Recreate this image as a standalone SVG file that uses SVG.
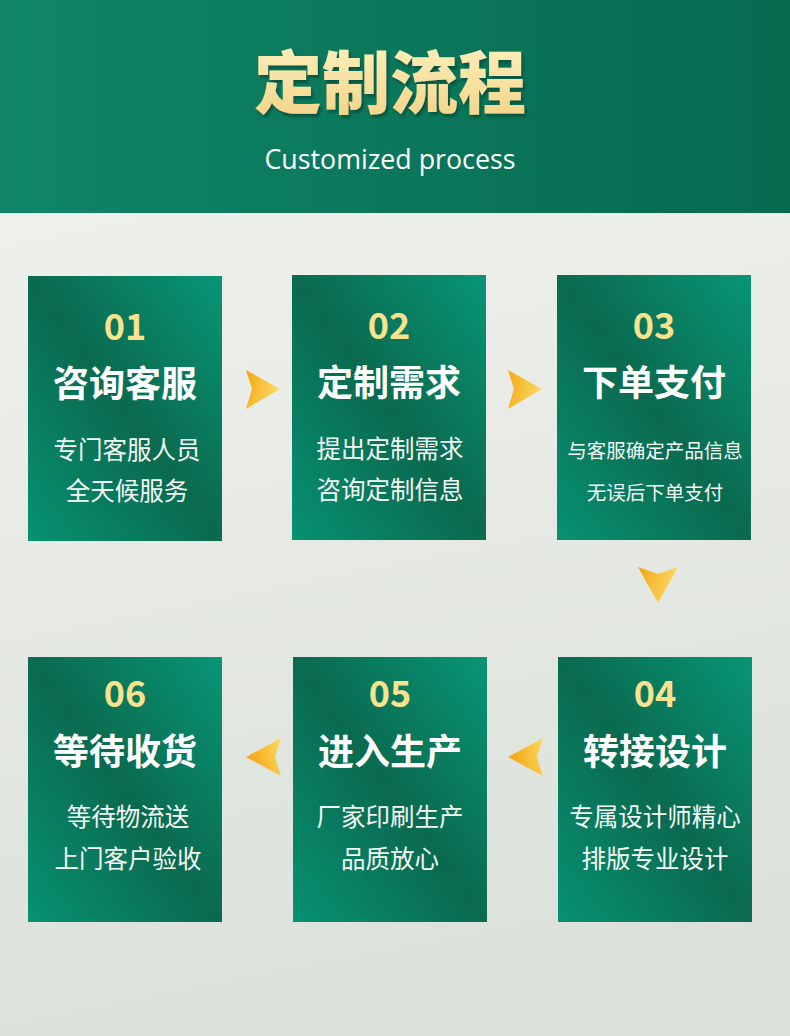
<svg xmlns="http://www.w3.org/2000/svg" width="790" height="1036" viewBox="0 0 790 1036">
  <defs>
    <linearGradient id="bg" x1="0" y1="0" x2="0.15" y2="1">
      <stop offset="0" stop-color="#f3f4f0"/>
      <stop offset="1" stop-color="#dce1db"/>
    </linearGradient>
    <linearGradient id="hdr" x1="0" y1="0" x2="1" y2="0">
      <stop offset="0" stop-color="#0f8567"/>
      <stop offset="1" stop-color="#066a4f"/>
    </linearGradient>
    <linearGradient id="box" x1="1" y1="0" x2="0" y2="1">
      <stop offset="0" stop-color="#089576"/>
      <stop offset="0.5" stop-color="#0a6a4f"/>
      <stop offset="1" stop-color="#079172"/>
    </linearGradient>
    <linearGradient id="gold" x1="0" y1="0" x2="0" y2="1">
      <stop offset="0" stop-color="#fff4c4"/>
      <stop offset="1" stop-color="#f2d183"/>
    </linearGradient>
    <linearGradient id="arr" x1="0" y1="0" x2="1" y2="0.3">
      <stop offset="0" stop-color="#f4a515"/>
      <stop offset="1" stop-color="#fcd960"/>
    </linearGradient>
    <linearGradient id="arrL" x1="1" y1="0" x2="0" y2="0.3">
      <stop offset="0" stop-color="#fcd960"/>
      <stop offset="1" stop-color="#f4a515"/>
    </linearGradient>
    <filter id="sh" x="-10%" y="-20%" width="120%" height="140%">
      <feDropShadow dx="2" dy="3" stdDeviation="1.5" flood-color="#033a2b" flood-opacity="0.6"/>
    </filter>
    <style>
      .box { fill: url(#box); }
      .num { font-family: "Noto Sans CJK SC", "Noto Sans", sans-serif; font-weight: 700; font-size: 36px; fill: #f9e28d; text-anchor: middle; }
      .ttl { font-family: "Noto Sans CJK SC", sans-serif; font-weight: 700; font-size: 36px; fill: #ffffff; text-anchor: middle; }
      .sub { font-family: "Noto Sans CJK SC", sans-serif; font-weight: 400; font-size: 24.5px; fill: #f4f8f5; text-anchor: middle; }
      .sub2 { font-family: "Noto Sans CJK SC", sans-serif; font-weight: 400; font-size: 19.5px; fill: #f4f8f5; text-anchor: middle; }
      .arrow { fill: url(#arr); }
    </style>
  </defs>

  <rect x="0" y="0" width="790" height="1036" fill="url(#bg)"/>

  <g id="header">
    <rect x="0" y="0" width="790" height="213" fill="url(#hdr)"/>
    <text x="390" y="108" font-family="Noto Sans CJK SC, sans-serif" font-weight="900" font-size="68" fill="url(#gold)" text-anchor="middle" filter="url(#sh)">定制流程</text>
    <text x="390" y="169" font-family="Open Sans, sans-serif" font-size="27" fill="#ffffff" text-anchor="middle" textLength="251" lengthAdjust="spacingAndGlyphs">Customized process</text>
  </g>

  <g id="step01">
    <rect class="box" x="28" y="276" width="194" height="265"/>
    <text class="num" x="125" y="340">01</text>
    <text class="ttl" x="125" y="397">咨询客服</text>
    <text class="sub" x="127" y="459">专门客服人员</text>
    <text class="sub" x="127" y="500">全天候服务</text>
  </g>
  <g id="step02">
    <rect class="box" x="292" y="275" width="194" height="265"/>
    <text class="num" x="389" y="339">02</text>
    <text class="ttl" x="389" y="396">定制需求</text>
    <text class="sub" x="390" y="458">提出定制需求</text>
    <text class="sub" x="390" y="499">咨询定制信息</text>
  </g>
  <g id="step03">
    <rect class="box" x="557" y="275" width="194" height="265"/>
    <text class="num" x="654" y="339">03</text>
    <text class="ttl" x="654" y="396">下单支付</text>
    <text class="sub2" x="655" y="458">与客服确定产品信息</text>
    <text class="sub2" x="655" y="500">无误后下单支付</text>
  </g>
  <g id="step04">
    <rect class="box" x="558" y="657" width="194" height="265"/>
    <text class="num" x="655" y="707">04</text>
    <text class="ttl" x="655" y="765">转接设计</text>
    <text class="sub" x="655" y="826">专属设计师精心</text>
    <text class="sub" x="655" y="868">排版专业设计</text>
  </g>
  <g id="step05">
    <rect class="box" x="293" y="657" width="194" height="265"/>
    <text class="num" x="390" y="707">05</text>
    <text class="ttl" x="390" y="765">进入生产</text>
    <text class="sub" x="390" y="826">厂家印刷生产</text>
    <text class="sub" x="390" y="868">品质放心</text>
  </g>
  <g id="step06">
    <rect class="box" x="28" y="657" width="194" height="265"/>
    <text class="num" x="125" y="707">06</text>
    <text class="ttl" x="125" y="765">等待收货</text>
    <text class="sub" x="128" y="826">等待物流送</text>
    <text class="sub" x="128" y="868">上门客户验收</text>
  </g>

  <g id="connectors">
    <polygon class="arrow" points="246,370 280,389 246,409 252,389"/>
    <polygon class="arrow" points="508,370 542,389 508,409 514,389"/>
    <polygon class="arrow" points="638,567 658,574 678,567 658,603"/>
    <polygon fill="url(#arrL)" points="543,738 508,757 543,776 537,757"/>
    <polygon fill="url(#arrL)" points="281,738 246,757 281,776 275,757"/>
  </g>
</svg>
